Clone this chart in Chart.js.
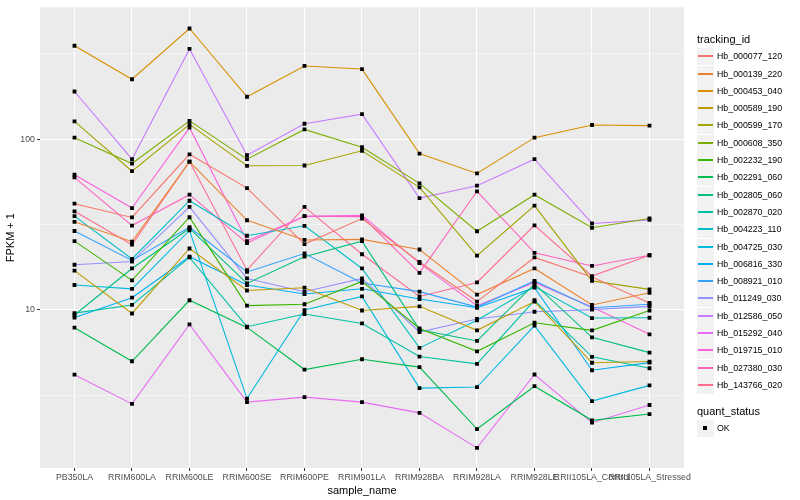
<!DOCTYPE html>
<html><head><meta charset="utf-8">
<script src="https://cdn.jsdelivr.net/npm/chart.js@4.4.1/dist/chart.umd.min.js"></script>
<style>
html,body{margin:0;padding:0;background:#fff;}
#wrap{position:relative;width:800px;height:500px;font-family:"Liberation Sans",Arial,sans-serif;overflow:hidden;}
#c{position:absolute;left:0;top:0;}
.ttl{position:absolute;font-size:11px;color:#000;white-space:nowrap;line-height:13px;}
.item{position:absolute;left:697px;width:100px;height:17px;}
.key{position:absolute;left:0;top:0;width:17px;height:17px;background:#F2F2F2;}
.key i{display:block;position:absolute;left:1px;width:15px;top:7px;height:2px;}
.key b{display:block;position:absolute;left:6px;top:6px;width:4px;height:4px;background:#000;}
.lab{position:absolute;left:20px;top:2px;font-size:8.8px;line-height:13px;color:#000;white-space:nowrap;}
</style></head>
<body>
<div id="wrap">
<canvas id="c" width="800" height="500"></canvas>
<div id="legend"></div>
</div>
<script>
const categories = ['PB350LA','RRIM600LA','RRIM600LE','RRIM600SE','RRIM600PE','RRIM901LA','RRIM928BA','RRIM928LA','RRIM928LE','RRII105LA_Control','RRII105LA_Stressed'];

const trackingIds = ['Hb_000077_120','Hb_000139_220','Hb_000453_040','Hb_000589_190','Hb_000599_170','Hb_000608_350','Hb_002232_190','Hb_002291_060','Hb_002805_060','Hb_002870_020','Hb_004223_110','Hb_004725_030','Hb_006816_330','Hb_008921_010','Hb_011249_030','Hb_012586_050','Hb_015292_040','Hb_019715_010','Hb_027380_030','Hb_143766_020'];
const seriesColors = ['#F8766D','#EA8331','#D89000','#C09B00','#A3A500','#7CAE00','#39B600','#00BB4E','#00BF7D','#00C1A3','#00BFC4','#00BAE0','#00B0F6','#35A2FF','#9590FF','#C77CFF','#E76BF3','#FA62DB','#FF62BC','#FF6C90'];

// FPKM + 1 values per sample (in category order)
const Hb_000077_120 = [41.9, 34.8, 81.5, 51.7, 24.3, 34.3, 19.1, 11.2, 20.3, 15.6, 11.0];
const Hb_000139_220 = [32.8, 25.1, 73.9, 33.5, 25.7, 25.9, 22.6, 12.3, 17.5, 10.7, 12.6];
const Hb_000453_040 = [352, 224, 444, 177, 268, 257, 82.3, 63.0, 102, 121, 120];
const Hb_000589_190 = [17.0, 9.54, 22.9, 13.0, 13.5, 9.93, 10.5, 7.60, 11.2, 4.91, 4.99];
const Hb_000599_170 = [127, 64.9, 122, 69.8, 70.1, 85.4, 52.2, 20.8, 40.8, 14.8, 13.2];
const Hb_000608_350 = [102, 72.0, 128, 76.3, 114, 89.6, 55.1, 28.9, 47.3, 30.3, 34.3];
const Hb_002232_190 = [25.3, 14.9, 34.9, 10.6, 10.8, 14.7, 7.80, 5.73, 8.42, 7.60, 9.93];
const Hb_002291_060 = [7.88, 5.01, 11.4, 7.91, 4.48, 5.15, 4.63, 2.01, 3.58, 2.26, 2.46];
const Hb_002805_060 = [9.34, 17.5, 30.0, 14.3, 20.5, 25.3, 7.67, 6.59, 14.2, 6.92, 5.63];
const Hb_002870_020 = [9.59, 10.7, 20.3, 7.98, 9.47, 8.34, 5.34, 4.84, 11.4, 5.32, 4.56];
const Hb_004223_110 = [35.4, 19.9, 43.6, 27.2, 31.1, 17.5, 6.00, 8.71, 13.7, 8.97, 9.01];
const Hb_004725_030 = [14.0, 13.3, 29.2, 3.03, 9.99, 12.0, 3.49, 3.54, 8.09, 2.93, 3.62];
const Hb_006816_330 = [9.04, 11.8, 20.5, 14.0, 12.4, 13.3, 11.6, 10.3, 13.5, 4.44, 4.92];
const Hb_008921_010 = [29.0, 19.5, 30.5, 16.7, 21.4, 14.4, 12.8, 10.4, 14.8, 10.3, 10.8];
const Hb_011249_030 = [18.4, 19.2, 40.1, 15.3, 12.8, 15.3, 7.43, 8.86, 9.76, 10.05, 10.5];
const Hb_012586_050 = [190, 76.3, 337, 80.5, 123, 140, 45.2, 53.4, 76.3, 32.1, 33.7];
const Hb_015292_040 = [4.18, 2.82, 8.23, 2.89, 3.09, 2.89, 2.50, 1.56, 4.19, 2.19, 2.78];
const Hb_019715_010 = [61.9, 39.5, 116.7, 25.3, 35.4, 35.8, 18.8, 10.6, 14.5, 10.4, 7.20];
const Hb_027380_030 = [59.7, 31.2, 47.3, 24.6, 35.4, 35.2, 16.5, 49.5, 21.6, 18.1, 20.9];
const Hb_143766_020 = [37.8, 24.1, 73.9, 17.1, 40.1, 21.2, 12.0, 14.5, 31.3, 15.8, 20.9];

const seriesValues = [Hb_000077_120, Hb_000139_220, Hb_000453_040, Hb_000589_190, Hb_000599_170, Hb_000608_350, Hb_002232_190, Hb_002291_060, Hb_002805_060, Hb_002870_020, Hb_004223_110, Hb_004725_030, Hb_006816_330, Hb_008921_010, Hb_011249_030, Hb_012586_050, Hb_015292_040, Hb_019715_010, Hb_027380_030, Hb_143766_020];

const yMajorTicks = [10, 100];
const yMinorTicks = [3.1623, 31.623, 316.23];
const yTickLabels = ['10', '100'];
const yMin = 1.189, yMax = 591;

const FONT = '"Liberation Sans", Arial, Helvetica, sans-serif';

const lineSets = seriesValues.map((vals, s) => ({
  label: trackingIds[s],
  data: vals.map((v, i) => ({x: i, y: v})),
  showLine: true,
  borderColor: seriesColors[s],
  backgroundColor: seriesColors[s],
  borderWidth: 1.1,
  pointRadius: 0,
  tension: 0,
  order: 2
}));
const pointSets = seriesValues.map((vals, s) => ({
  label: trackingIds[s] + ' OK',
  data: vals.map((v, i) => ({x: i, y: v})),
  showLine: false,
  pointStyle: 'rect',
  pointRadius: 2.7,
  pointBackgroundColor: '#000',
  pointBorderWidth: 0,
  order: 1
}));

const panelBg = {
  id: 'panelBg',
  beforeDraw(chart) {
    const {ctx, chartArea: a} = chart;
    ctx.save();
    ctx.fillStyle = '#EBEBEB';
    ctx.fillRect(a.left, a.top, a.right - a.left, a.bottom - a.top);
    ctx.restore();
  }
};

const isMajor = v => yMajorTicks.some(m => Math.abs(m - v) < 1e-6);

new Chart(document.getElementById('c'), {
  type: 'scatter',
  data: {datasets: [...lineSets, ...pointSets]},
  plugins: [panelBg],
  options: {
    responsive: false,
    animation: false,
    devicePixelRatio: 1,
    layout: {padding: {top: 4, right: 116, left: 0, bottom: 0}},
    plugins: {legend: {display: false}, tooltip: {enabled: false}},
    scales: {
      x: {
        type: 'linear', min: -0.6, max: 10.6,
        afterBuildTicks: s => { s.ticks = categories.map((c, i) => ({value: i})); },
        afterFit: s => { s.height = 32; },
        ticks: {
          autoSkip: false, maxRotation: 0, minRotation: 0, padding: 1,
          color: '#4D4D4D', font: {family: FONT, size: 8.8},
          callback: v => categories[v]
        },
        grid: {color: '#FFFFFF', lineWidth: 1.07, drawTicks: true, tickLength: 3, tickColor: '#333333', tickWidth: 1},
        border: {display: false},
        title: {display: true, text: 'sample_name', color: '#000', font: {family: FONT, size: 11}, padding: {top: 0, bottom: 2}}
      },
      y: {
        type: 'logarithmic', min: yMin, max: yMax,
        afterBuildTicks: s => { s.ticks = [...yMinorTicks, ...yMajorTicks].sort((a, b) => a - b).map(v => ({value: v})); },
        afterFit: s => { s.width = 40; },
        ticks: {
          padding: 2, color: '#4D4D4D', font: {family: FONT, size: 8.8},
          callback: v => { const k = yMajorTicks.findIndex(m => Math.abs(m - v) < 1e-6); return k >= 0 ? yTickLabels[k] : ''; }
        },
        grid: {
          color: '#FFFFFF',
          lineWidth: c => (c.tick && isMajor(c.tick.value)) ? 1.07 : 0.53,
          drawTicks: true, tickLength: 3,
          tickColor: c => (c.tick && isMajor(c.tick.value)) ? '#333333' : 'rgba(0,0,0,0)',
          tickWidth: 1
        },
        border: {display: false},
        title: {display: true, text: 'FPKM + 1', color: '#000', font: {family: FONT, size: 11}, padding: {top: 4, bottom: 0}}
      }
    }
  }
});

// legend (HTML)
const lg = document.getElementById('legend');
let html = '<div class="ttl" style="left:697px;top:33px;">tracking_id</div>';
trackingIds.forEach((id, i) => {
  const top = Math.round(48.2 + i * 17.3);
  html += '<div class="item" style="top:' + top + 'px"><div class="key"><i style="background-color:' + seriesColors[i] + ';"></i></div><div class="lab">' + id + '</div></div>';
});
html += '<div class="ttl" style="left:697px;top:405px;">quant_status</div>';
html += '<div class="item" style="top:420px"><div class="key"><b></b></div><div class="lab">OK</div></div>';
lg.innerHTML = html;
</script>
</body></html>
